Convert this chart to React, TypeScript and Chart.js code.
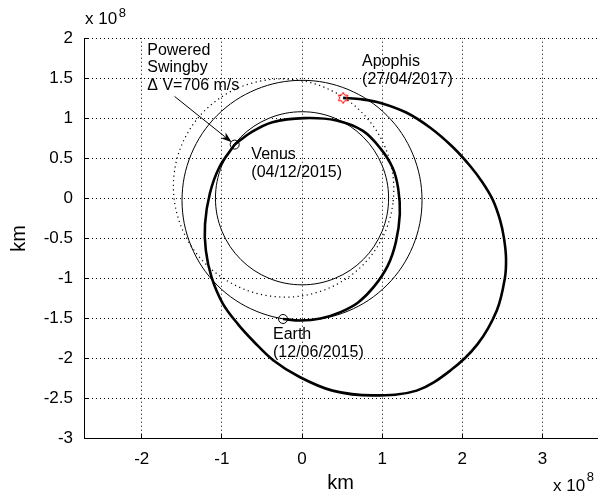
import React, { useEffect, useRef } from "react";
import { Chart, registerables } from "chart.js";

Chart.register(...registerables);

// ---- axis ranges and ticks (units of 1e8 km) ----
const X_MIN = -2.72;
const X_MAX = 3.68;
const Y_MIN = -3;
const Y_MAX = 2;
const xTickValues = [-2, -1, 0, 1, 2, 3];
const yTickValues = [-3, -2.5, -2, -1.5, -1, -0.5, 0, 0.5, 1, 1.5, 2];

// ---- planet / asteroid orbits ----
const venusOrbit: [number, number][] = [
  [1.08, 0], [0.998, 0.413], [0.764, 0.764], [0.413, 0.998], [0, 1.08],
  [-0.413, 0.998], [-0.764, 0.764], [-0.998, 0.413], [-1.08, 0],
  [-0.998, -0.413], [-0.764, -0.764], [-0.413, -0.998], [0, -1.08],
  [0.413, -0.998], [0.764, -0.764], [0.998, -0.413],
];

const earthOrbit: [number, number][] = [
  [1.497, -0.025], [1.383, 0.548], [1.059, 1.034], [0.573, 1.358], [0, 1.472],
  [-0.573, 1.358], [-1.059, 1.034], [-1.383, 0.548], [-1.497, -0.025],
  [-1.383, -0.598], [-1.059, -1.084], [-0.573, -1.408], [0, -1.522],
  [0.573, -1.408], [1.059, -1.084], [1.383, -0.598],
];

const apophisOrbit: [number, number][] = [
  [0.977, -0.541], [1.137, -0.037], [1.088, 0.493], [0.839, 0.967], [0.427, 1.313],
  [-0.085, 1.479], [-0.619, 1.439], [-1.094, 1.2], [-1.437, 0.797], [-1.597, 0.293],
  [-1.548, -0.237], [-1.299, -0.711], [-0.887, -1.057], [-0.375, -1.223],
  [0.159, -1.183], [0.634, -0.944],
];

// ---- spacecraft trajectory ----
const legEarthToVenus: [number, number][] = [
  [-0.237, -1.506], [-0.02, -1.525], [0.23, -1.5], [0.48, -1.42], [0.7, -1.3],
  [0.9, -1.1], [1.07, -0.84], [1.17, -0.55], [1.22, -0.2], [1.2, 0.12],
  [1.13, 0.38], [0.98, 0.62], [0.76, 0.84], [0.43, 0.97], [0.03, 1.0],
  [-0.37, 0.95], [-0.64, 0.82], [-0.84, 0.67],
];

const legVenusToApophis: [number, number][] = [
  [-0.84, 0.67], [-1.03, 0.39], [-1.15, 0.06], [-1.21, -0.32], [-1.2, -0.65],
  [-1.13, -0.98], [-0.99, -1.31], [-0.8, -1.57], [-0.6, -1.79], [-0.36, -2.02],
  [-0.03, -2.23], [0.38, -2.4], [0.88, -2.46], [1.43, -2.4], [1.85, -2.15],
  [2.19, -1.82], [2.43, -1.4], [2.53, -1.0], [2.545, -0.75], [2.52, -0.5],
  [2.47, -0.27], [2.38, -0.02], [2.25, 0.2], [2.1, 0.4], [1.88, 0.64],
  [1.6, 0.88], [1.3, 1.07], [0.98, 1.19], [0.74, 1.235], [0.513, 1.2525],
];

// ---- event markers ----
const earthDeparture: [number, number] = [-0.237, -1.506];
const venusSwingby: [number, number] = [-0.84, 0.67];
const apophisArrival: [number, number] = [0.513, 1.2525];

// ---- annotations ----
const labelLines: string[][] = [
  ["Powered", "Swingby", "\u0394 V=706 m/s"],
  ["Venus", "(04/12/2015)"],
  ["Apophis", "(27/04/2017)"],
  ["Earth", "(12/06/2015)"],
];
const labelX = [-1.931, -0.632, 0.749, -0.362];
const labelY = [1.792, 0.49, 1.646, -1.758];
const arrowFrom: [number, number] = [-1.59, 1.271];
const arrowTo: [number, number] = [-0.876, 0.699];
const axisTitleX = "km";
const axisTitleY = "km";
const exponentBase = "x 10";
const exponentPower = "8";

const FONT = "'Liberation Sans', Arial, Helvetica, sans-serif";

const toPts = (arr: [number, number][]) => arr.map(([x, y]) => ({ x, y }));
const closed = (arr: [number, number][]) => toPts([...arr, arr[0], arr[1], arr[2]]);
const hideSeam = (n: number) => (ctx: any) =>
  ctx.p0DataIndex === 0 || ctx.p0DataIndex === n + 1 ? "rgba(0,0,0,0)" : undefined;

function hexagramCanvas(): HTMLCanvasElement {
  const c = document.createElement("canvas");
  c.width = 14;
  c.height = 14;
  const g = c.getContext("2d")!;
  const R = 5.6;
  const r = R / Math.sqrt(3);
  g.beginPath();
  for (let i = 0; i < 12; i++) {
    const a = -Math.PI / 2 + (i * Math.PI) / 6;
    const rr = i % 2 === 0 ? R : r;
    const px = 7 + rr * Math.cos(a);
    const py = 7 + rr * Math.sin(a);
    if (i === 0) g.moveTo(px, py);
    else g.lineTo(px, py);
  }
  g.closePath();
  g.strokeStyle = "#ff0000";
  g.lineWidth = 1;
  g.stroke();
  return c;
}

function drawDottedGrid(chart: any) {
  const { ctx, chartArea } = chart;
  const xs = chart.scales.x;
  const ys = chart.scales.y;
  ctx.save();
  ctx.strokeStyle = "#000000";
  ctx.lineWidth = 1;
  ctx.setLineDash([1, 3]);
  ctx.lineDashOffset = 0;
  ctx.beginPath();
  for (const v of xTickValues) {
    const px = Math.floor(xs.getPixelForValue(v)) + 0.5;
    ctx.moveTo(px, chartArea.bottom);
    ctx.lineTo(px, chartArea.top);
  }
  for (const v of yTickValues) {
    const py = Math.floor(ys.getPixelForValue(v)) + 0.5;
    ctx.moveTo(chartArea.left, py);
    ctx.lineTo(chartArea.right, py);
  }
  ctx.stroke();
  ctx.restore();
}

const overlayPlugin = {
  id: "overlay",
  afterDraw(chart: any) {
    drawDottedGrid(chart);
    const { ctx, chartArea } = chart;
    const xs = chart.scales.x;
    const ys = chart.scales.y;
    ctx.save();
    ctx.setLineDash([]);
    // inward tick marks
    ctx.strokeStyle = "#000";
    ctx.lineWidth = 1;
    ctx.beginPath();
    for (const v of yTickValues) {
      const py = Math.floor(ys.getPixelForValue(v)) + 0.5;
      ctx.moveTo(chartArea.left, py);
      ctx.lineTo(chartArea.left + 5, py);
    }
    for (const v of xTickValues) {
      const px = Math.floor(xs.getPixelForValue(v)) + 0.5;
      ctx.moveTo(px, chartArea.bottom);
      ctx.lineTo(px, chartArea.bottom - 5);
    }
    ctx.stroke();

    // arrow
    const x1 = xs.getPixelForValue(arrowFrom[0]);
    const y1 = ys.getPixelForValue(arrowFrom[1]);
    const x2 = xs.getPixelForValue(arrowTo[0]);
    const y2 = ys.getPixelForValue(arrowTo[1]);
    const ang = Math.atan2(y2 - y1, x2 - x1);
    const headLen = 11;
    const headW = 3.8;
    ctx.beginPath();
    ctx.moveTo(x1, y1);
    ctx.lineTo(x2 - Math.cos(ang) * (headLen - 2), y2 - Math.sin(ang) * (headLen - 2));
    ctx.stroke();
    ctx.beginPath();
    const bx = x2 - Math.cos(ang) * headLen;
    const by = y2 - Math.sin(ang) * headLen;
    const nx = -Math.sin(ang);
    const ny = Math.cos(ang);
    ctx.moveTo(x2, y2);
    ctx.lineTo(bx + nx * headW, by + ny * headW);
    ctx.lineTo(x2 - Math.cos(ang) * (headLen - 3), y2 - Math.sin(ang) * (headLen - 3));
    ctx.lineTo(bx - nx * headW, by - ny * headW);
    ctx.closePath();
    ctx.fillStyle = "#000";
    ctx.fill();

    // text labels
    ctx.fillStyle = "#000";
    ctx.font = `16px ${FONT}`;
    ctx.textAlign = "left";
    ctx.textBaseline = "alphabetic";
    labelLines.forEach((lines, i) => {
      const px = xs.getPixelForValue(labelX[i]);
      const py = ys.getPixelForValue(labelY[i]);
      lines.forEach((t, j) => ctx.fillText(t, px, py + j * 17.8));
    });

    // exponent labels
    ctx.font = `17px ${FONT}`;
    ctx.fillText(exponentBase, chartArea.left + 1, chartArea.top - 14);
    const w = ctx.measureText(exponentBase).width;
    ctx.fillText(exponentBase, chartArea.right - 44, chartArea.bottom + 52);
    ctx.font = `13px ${FONT}`;
    ctx.fillText(exponentPower, chartArea.left + 1 + w + 1.5, chartArea.top - 21);
    ctx.fillText(exponentPower, chartArea.right - 44 + w + 1.5, chartArea.bottom + 42);
    ctx.restore();
  },
};

const fmtTick = (v: any) => String(Math.round(Number(v) * 10) / 10);

export default function App() {
  const canvasRef = useRef<HTMLCanvasElement | null>(null);

  useEffect(() => {
    if (!canvasRef.current) return;
    const hex = hexagramCanvas();
    const n = 16;
    const chart = new Chart(canvasRef.current, {
      type: "scatter",
      data: {
        datasets: [
          {
            label: "Apophis",
            data: toPts([apophisArrival]),
            pointStyle: hex as any,
            pointRadius: 7,
            showLine: false,
            order: 0,
          },
          {
            label: "Venus swingby",
            data: toPts([venusSwingby]),
            pointStyle: "circle",
            pointRadius: 4.5,
            borderColor: "#000",
            backgroundColor: "rgba(0,0,0,0)",
            pointBorderWidth: 1,
            showLine: false,
            order: 1,
          },
          {
            label: "Earth departure",
            data: toPts([earthDeparture]),
            pointStyle: "circle",
            pointRadius: 4.5,
            borderColor: "#000",
            backgroundColor: "rgba(0,0,0,0)",
            pointBorderWidth: 1,
            showLine: false,
            order: 2,
          },
          {
            label: "Earth to Venus",
            data: toPts(legEarthToVenus),
            showLine: true,
            borderColor: "#000",
            borderWidth: 2.6,
            pointRadius: 0,
            tension: 0.35,
            order: 3,
          },
          {
            label: "Venus to Apophis",
            data: toPts(legVenusToApophis),
            showLine: true,
            borderColor: "#000",
            borderWidth: 2.6,
            pointRadius: 0,
            tension: 0.35,
            order: 4,
          },
          {
            label: "Venus orbit",
            data: closed(venusOrbit),
            showLine: true,
            borderColor: "#000",
            borderWidth: 1,
            pointRadius: 0,
            tension: 0.35,
            segment: { borderColor: hideSeam(n) },
            order: 5,
          },
          {
            label: "Earth orbit",
            data: closed(earthOrbit),
            showLine: true,
            borderColor: "#000",
            borderWidth: 1,
            pointRadius: 0,
            tension: 0.35,
            segment: { borderColor: hideSeam(n) },
            order: 6,
          },
          {
            label: "Apophis orbit",
            data: closed(apophisOrbit),
            showLine: true,
            borderColor: "#000",
            borderWidth: 1.2,
            borderDash: [1.2, 3.4],
            pointRadius: 0,
            tension: 0.35,
            segment: { borderColor: hideSeam(n) },
            order: 7,
          },
        ] as any,
      },
      options: {
        animation: false,
        responsive: false,
        devicePixelRatio: 1,
        layout: { padding: { left: 0, right: 12, top: 38, bottom: 0 } },
        plugins: { legend: { display: false }, tooltip: { enabled: false } },
        events: [],
        scales: {
          x: {
            type: "linear",
            min: X_MIN,
            max: X_MAX,
            afterBuildTicks: (s: any) => {
              s.ticks = xTickValues.map((v) => ({ value: v }));
            },
            afterFit: (s: any) => {
              s.height = 57.3;
            },
            ticks: {
              color: "#000",
              font: { family: FONT, size: 17 },
              padding: 10,
              maxRotation: 0,
              callback: fmtTick,
            },
            grid: { display: false, drawTicks: false },
            border: { display: true, color: "#000", width: 1 },
            title: {
              display: true,
              text: axisTitleX,
              color: "#000",
              font: { family: FONT, size: 20 },
              padding: { top: 0, bottom: 0.5 },
            },
          },
          y: {
            type: "linear",
            min: Y_MIN,
            max: Y_MAX,
            afterBuildTicks: (s: any) => {
              s.ticks = yTickValues.map((v) => ({ value: v }));
            },
            afterFit: (s: any) => {
              s.width = 84;
            },
            ticks: {
              color: "#000",
              font: { family: FONT, size: 17 },
              padding: 11,
              callback: fmtTick,
            },
            grid: { display: false, drawTicks: false },
            border: { display: true, color: "#000", width: 1 },
            title: {
              display: true,
              text: axisTitleY,
              color: "#000",
              font: { family: FONT, size: 20 },
              padding: { top: 7.8, bottom: 0 },
            },
          },
        },
      } as any,
      plugins: [overlayPlugin],
    });
    return () => chart.destroy();
  }, []);

  return (
    <div style={{ position: "absolute", left: 0, top: 0, width: 609, height: 496, background: "#fff" }}>
      <canvas ref={canvasRef} width={609} height={496} style={{ display: "block" }} />
    </div>
  );
}
